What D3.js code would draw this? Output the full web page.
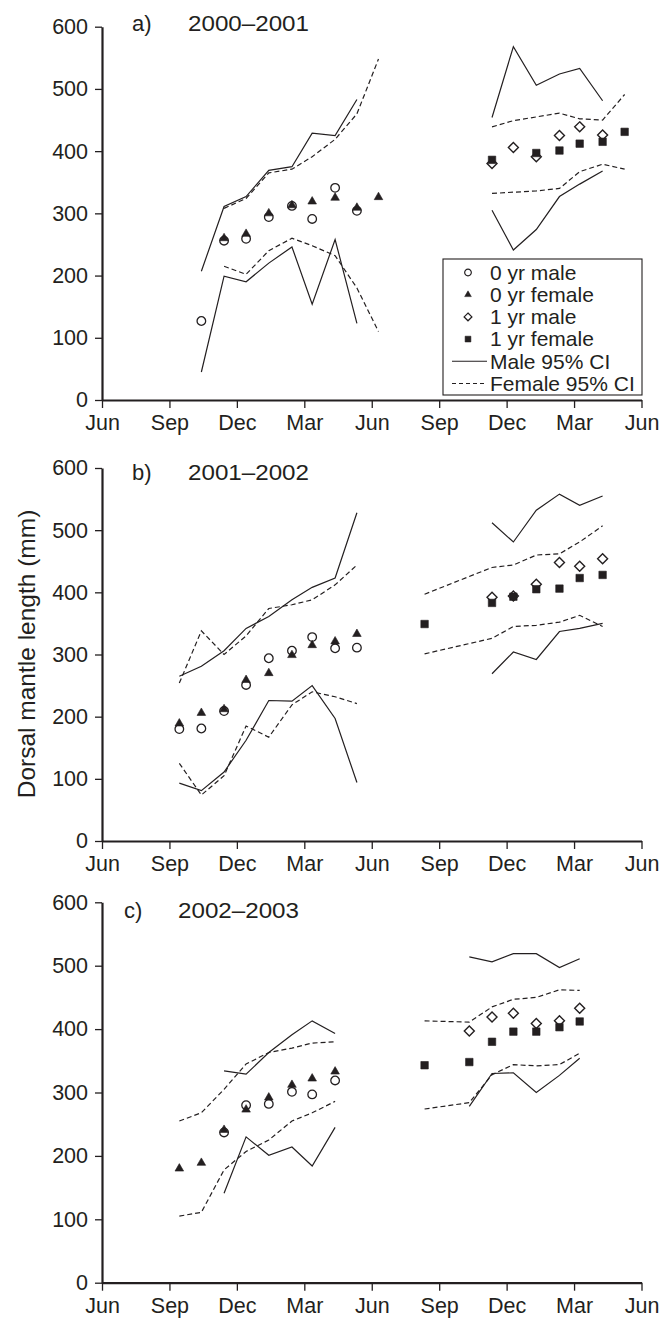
<!DOCTYPE html>
<html>
<head>
<meta charset="utf-8">
<script src="https://cdn.jsdelivr.net/npm/d3@7"></script>
<style>
  body { margin: 0; background: #fff; }
  svg { display: block; }
  text { font-family: "Liberation Sans", Arial, Helvetica, sans-serif; fill: #231f20; }
</style>
</head>
<body>
<svg id="chart" width="670" height="1318"></svg>
<script>
const N = null;

// Axis ticks: months counted from 1 June of the first season
const monthTicks = [0, 3, 6, 9, 12, 15, 18, 21, 24];
const monthTickLabels = ["Jun", "Sep", "Dec", "Mar", "Jun", "Sep", "Dec", "Mar", "Jun"];
const lengthTicks = [0, 100, 200, 300, 400, 500, 600];

// Sampling dates (months after 1 June)
const monthsYear0 = [3.44, 4.42, 5.43, 6.41, 7.42, 8.45, 9.35, 10.37, 11.34, 12.3];     // Sep .. Jun
const monthsYear1 = [14.35, 15.35, 16.34, 17.35, 18.3, 19.32, 20.35, 21.25, 22.27, 23.25]; // Aug .. May

// ---- a) 2000–2001 ----
const aMale0      = [N, 127, 256, 259, 294, 312, 291, 341, 304, N];
const aFemale0    = [N, N, 260, 267, 300, 313, 319, 325, 309, 326];
const aMaleCIUp0  = [N, 207, 311, 327, 369, 375, 429, 425, 483, N];
const aMaleCILo0  = [N, 45, 199, 190, 220, 246, 154, 258, 123, N];
const aFemCIUp0   = [N, N, 308, 324, 365, 371, 391, 419, 460, 548];
const aFemCILo0   = [N, N, 215, 202, 240, 260, 248, 232, 180, 110];
const aMale1      = [N, N, N, 380, 406, 391, 425, 439, 426, N];
const aFemale1    = [N, N, N, 386, N, 397, 401, 412, 415, 431];
const aMaleCIUp1  = [N, N, N, 454, 568, 506, 524, 533, 481, N];
const aMaleCILo1  = [N, N, N, 305, 241, 274, 327, 347, 368, N];
const aFemCIUp1   = [N, N, N, 439, 449, 455, 461, 452, 450, 491];
const aFemCILo1   = [N, N, N, 332, 334, 336, 340, 367, 379, 371];

// ---- b) 2001–2002 ----
const bMale0      = [180, 181, 209, 251, 294, 306, 328, 310, 311, N];
const bFemale0    = [189, 206, 212, 259, 270, 299, 315, 321, 333, N];
const bMaleCIUp0  = [265, 281, 306, 342, 361, 388, 408, 423, 528, N];
const bMaleCILo0  = [93, 81, 111, 162, 226, 225, 250, 197, 94, N];
const bFemCIUp0   = [254, 338, 300, 330, 374, 380, 388, 412, 444, N];
const bFemCILo0   = [125, 74, 105, 185, 167, 219, 240, 232, 221, N];
const bMale1      = [N, N, N, 392, 394, 413, 448, 442, 454, N];
const bFemale1    = [349, N, N, 383, 393, 405, 406, 423, 428, N];
const bMaleCIUp1  = [N, N, N, 512, 481, 532, 558, 540, 555, N];
const bMaleCILo1  = [N, N, N, 269, 304, 292, 337, 342, 350, N];
const bFemCIUp1   = [397, N, N, 440, 444, 460, 462, 481, 507, N];
const bFemCILo1   = [301, N, N, 326, 345, 347, 352, 363, 345, N];

// ---- c) 2002–2003 ----
const cMale0      = [N, N, 237, 280, 282, 301, 297, 319, N, N];
const cFemale0    = [180, 189, 241, 273, 292, 312, 322, 333, N, N];
const cMaleCIUp0  = [N, N, 334, 329, 363, 391, 413, 393, N, N];
const cMaleCILo0  = [N, N, 141, 230, 201, 214, 184, 245, N, N];
const cFemCIUp0   = [255, 268, 305, 345, 363, 370, 378, 380, N, N];
const cFemCILo0   = [105, 111, 178, 207, 225, 255, 268, 286, N, N];
const cMale1      = [N, N, 397, 419, 425, 409, 413, 433, N, N];
const cFemale1    = [343, N, 348, 380, 396, 396, 403, 412, N, N];
const cMaleCIUp1  = [N, N, 514, 506, 519, 519, 497, 511, N, N];
const cMaleCILo1  = [N, N, 278, 330, 331, 300, 327, 354, N, N];
const cFemCIUp1   = [413, N, 411, 435, 447, 450, 462, 461, N, N];
const cFemCILo1   = [274, N, 284, 328, 344, 342, 344, 362, N, N];

const legendLabels = ["0 yr male", "0 yr female", "1 yr male", "1 yr female", "Male 95% CI", "Female 95% CI"];

// ---------------------------------------------------------------
const ink = "#231f20";
const svg = d3.select("#chart");

const x = d3.scaleLinear().domain([0, 24]).range([102, 641.5]);

// square turned 45 degrees, equal width and height
const diamondSquare = {
  draw(ctx, size) {
    const r = Math.sqrt(size / 2);
    ctx.moveTo(0, -r); ctx.lineTo(r, 0); ctx.lineTo(0, r); ctx.lineTo(-r, 0); ctx.closePath();
  }
};

const marker = {
  m0: { type: d3.symbolCircle,   size: 58, fill: "#fff", stroke: ink, sw: 1.3 },
  f0: { type: d3.symbolTriangle, size: 32, fill: ink,    stroke: ink, sw: 0.6 },
  m1: { type: diamondSquare,     size: 50, fill: "#fff", stroke: ink, sw: 1.4 },
  f1: { type: d3.symbolSquare,   size: 56, fill: ink,    stroke: ink, sw: 0.6 }
};

function pairs(months, vals) {
  return vals.map((v, i) => [months[i], v]).filter(d => d[1] !== null);
}

function drawPanel(p) {
  const y = d3.scaleLinear().domain([0, 600]).range([p.bottom, p.top]);
  const g = svg.append("g");

  // confidence limits
  const line = d3.line().x(d => x(d[0])).y(d => y(d[1]));
  const ciSeries = [
    [monthsYear0, p.mU0, false], [monthsYear0, p.mL0, false],
    [monthsYear0, p.fU0, true],  [monthsYear0, p.fL0, true],
    [monthsYear1, p.mU1, false], [monthsYear1, p.mL1, false],
    [monthsYear1, p.fU1, true],  [monthsYear1, p.fL1, true]
  ];
  ciSeries.forEach(([months, vals, dashed]) => {
    g.append("path")
      .attr("d", line(pairs(months, vals)))
      .attr("fill", "none")
      .attr("stroke", ink)
      .attr("stroke-width", 1.2)
      .attr("stroke-dasharray", dashed ? "5,3" : null);
  });

  // mean lengths
  const pts = [
    [monthsYear0, p.m0, marker.m0], [monthsYear0, p.f0, marker.f0],
    [monthsYear1, p.m1, marker.m1], [monthsYear1, p.f1, marker.f1]
  ];
  pts.forEach(([months, vals, mk]) => {
    const sym = d3.symbol().type(mk.type).size(mk.size);
    g.selectAll(null).data(pairs(months, vals)).enter().append("path")
      .attr("d", sym)
      .attr("transform", d => `translate(${x(d[0])},${y(d[1])})`)
      .attr("fill", mk.fill)
      .attr("stroke", mk.stroke)
      .attr("stroke-width", mk.sw);
  });

  // axes
  const xAxis = g.append("g").attr("transform", `translate(0,${p.bottom})`)
    .call(d3.axisBottom(x).tickValues(monthTicks)
      .tickFormat((d, i) => monthTickLabels[i]).tickSize(8).tickSizeOuter(0).tickPadding(7));
  const yAxis = g.append("g").attr("transform", `translate(${x(0)},0)`)
    .call(d3.axisLeft(y).tickValues(lengthTicks).tickSize(7).tickSizeOuter(0).tickPadding(7));
  [xAxis, yAxis].forEach(a => {
    a.select(".domain").attr("stroke", ink).attr("stroke-width", 2.2);
    a.selectAll(".tick line").attr("stroke", ink).attr("stroke-width", 1.3);
    a.selectAll(".tick text").attr("fill", ink).style("font-size", "21.5px")
      .style("font-family", '"Liberation Sans", Arial, sans-serif');
  });

  // panel title
  g.append("text").attr("x", p.letterX).attr("y", p.titleY).style("font-size", "22px").text(p.letter);
  g.append("text").attr("x", p.yearsX).attr("y", p.titleY).style("font-size", "22px")
    .attr("textLength", 121).attr("lengthAdjust", "spacingAndGlyphs").text(p.years);

  if (p.legend) drawLegend(g);
}

function drawLegend(g) {
  const left = 443, top = 259, w = 199, h = 136;
  g.append("rect").attr("x", left).attr("y", top).attr("width", w).attr("height", h)
    .attr("fill", "#fff").attr("stroke", ink).attr("stroke-width", 1.1);
  const rowY = d => top + 13.5 + d * 22.2;
  const keys = ["m0", "f0", "m1", "f1"];
  keys.forEach((k, i) => {
    const mk = marker[k];
    g.append("path")
      .attr("d", d3.symbol().type(mk.type).size(mk.size * 0.6)())
      .attr("transform", `translate(468,${rowY(i)})`)
      .attr("fill", mk.fill).attr("stroke", mk.stroke).attr("stroke-width", mk.sw * 0.9);
  });
  [false, true].forEach((dashed, j) => {
    g.append("line").attr("x1", 452).attr("x2", 487)
      .attr("y1", rowY(4 + j)).attr("y2", rowY(4 + j))
      .attr("stroke", ink).attr("stroke-width", 1.1)
      .attr("stroke-dasharray", dashed ? "4,3" : null);
  });
  legendLabels.forEach((t, i) => {
    g.append("text").attr("x", 490).attr("y", rowY(i)).attr("dy", "0.35em")
      .style("font-size", "21px").text(t);
  });
}

const panels = [
  { letter: "a)", years: "2000–2001", top: 26.7, bottom: 400, titleY: 31, letterX: 132, yearsX: 188, legend: true,
    m0: aMale0, f0: aFemale0, m1: aMale1, f1: aFemale1,
    mU0: aMaleCIUp0, mL0: aMaleCILo0, fU0: aFemCIUp0, fL0: aFemCILo0,
    mU1: aMaleCIUp1, mL1: aMaleCILo1, fU1: aFemCIUp1, fL1: aFemCILo1 },
  { letter: "b)", years: "2001–2002", top: 468, bottom: 841, titleY: 480, letterX: 132, yearsX: 188, legend: false,
    m0: bMale0, f0: bFemale0, m1: bMale1, f1: bFemale1,
    mU0: bMaleCIUp0, mL0: bMaleCILo0, fU0: bFemCIUp0, fL0: bFemCILo0,
    mU1: bMaleCIUp1, mL1: bMaleCILo1, fU1: bFemCIUp1, fL1: bFemCILo1 },
  { letter: "c)", years: "2002–2003", top: 902.3, bottom: 1282.7, titleY: 918, letterX: 124, yearsX: 178, legend: false,
    m0: cMale0, f0: cFemale0, m1: cMale1, f1: cFemale1,
    mU0: cMaleCIUp0, mL0: cMaleCILo0, fU0: cFemCIUp0, fL0: cFemCILo0,
    mU1: cMaleCIUp1, mL1: cMaleCILo1, fU1: cFemCIUp1, fL1: cFemCILo1 }
];
panels.forEach(drawPanel);

// shared vertical axis title
svg.append("text")
  .attr("transform", "translate(35,654) rotate(-90)")
  .attr("text-anchor", "middle")
  .style("font-size", "24.5px")
  .text("Dorsal mantle length (mm)");
</script>
</body>
</html>
